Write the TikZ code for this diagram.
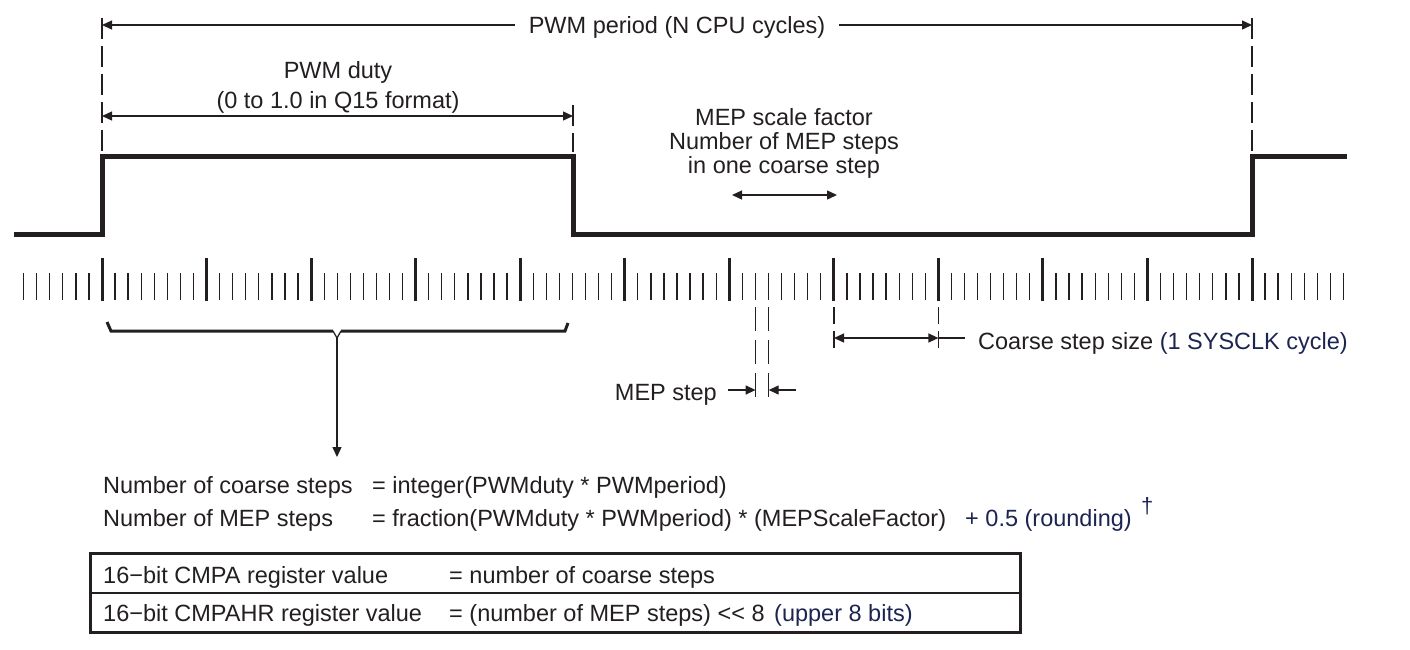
\documentclass[tikz,border=0pt]{standalone}
\usepackage{fontspec}
\setmainfont{Liberation Sans}
\usetikzlibrary{arrows.meta}
\definecolor{ink}{RGB}{35,31,32}
\definecolor{navy}{RGB}{28,36,80}
\begin{document}
\begin{tikzpicture}[x=1pt,y=-1pt,
  txt/.style={inner sep=0pt, font=\fontsize{23.5}{28}\selectfont, text=ink},
  note/.style={txt, text=navy},
  thinline/.style={line width=1.3pt, draw=ink},
  tipend/.style={thinline, -{Triangle[length=10pt,width=9pt]}},
  dim/.style={thinline, {Triangle[length=10pt,width=9pt]}-{Triangle[length=10pt,width=9pt]}},
  guide/.style={thinline, dash pattern=on 21pt off 7pt},
  wave/.style={line width=5pt, draw=ink, line join=miter},
  smalltick/.style={line width=1.3pt, draw=ink},
  bigtick/.style={line width=3pt, draw=ink},
  bracepart/.style={line width=3pt, draw=ink, line join=miter}]
\useasboundingbox (0,0) rectangle (1410,649);

% ---- key coordinates
\coordinate (perL) at (102,25);
\coordinate (perR) at (1252,25);
\coordinate (dutyL) at (102,116);
\coordinate (dutyR) at (573,116);

% ---- guide lines
\draw[guide] (102,18) -- (102,152);
\draw[guide] (1252,18) -- (1252,152);
\draw[guide] (573,105) -- (573,152);

% ---- PWM period
\draw[dim] (perL) -- (perR);
\node[txt, fill=white, inner xsep=14pt, anchor=base] (per) at (677,33.5) {PWM period (N CPU cycles)};

% ---- PWM duty
\draw[dim] (dutyL) -- (dutyR);
\node[txt, anchor=base] (duty1) at (338,78) {PWM duty};
\node[txt, anchor=base] (duty2) at (338,108) {(0 to 1.0 in Q15 format)};

% ---- MEP scale factor
\node[txt, anchor=base] (msf1) at (784,125) {MEP scale factor};
\node[txt, anchor=base] (msf2) at (784,149) {Number of MEP steps};
\node[txt, anchor=base] (msf3) at (784,173) {in one coarse step};
\coordinate (msfL) at (732,195);
\coordinate (msfR) at (837,195);
\draw[dim] (msfL) -- (msfR);

% ---- waveform
\draw[wave] (14,234) -- (102,234) -- (102,156) -- (573,156) -- (573,234)
  -- (1252,234) -- (1252,156) -- (1347,156);

% ---- tick scale
\foreach \i in {-6,...,95}
  \draw[smalltick] ({102+\i*13.068},273) -- ({102+\i*13.068},300);
\foreach \k in {0,...,11}
  \draw[bigtick] ({102+\k*104.545},258) -- ({102+\k*104.545},301);

% ---- brace and arrow down
\draw[bracepart] (107,322) -- (111,331) -- (333,331);
\draw[bracepart] (341,331) -- (565,331) -- (568,323);
\draw[thinline] (333,331) -- (337,338) -- (341,331);
\coordinate (braceTip) at (337,338);
\coordinate (formTop) at (337,457);
\draw[tipend] (braceTip) -- (formTop);

% ---- MEP step
\draw[thinline, dash pattern=on 24pt off 9pt] (755.6,307) -- (755.6,402);
\draw[thinline, dash pattern=on 24pt off 9pt] (768.7,307) -- (768.7,402);
\coordinate (mepA) at (728,390);
\coordinate (mepB) at (755.6,390);
\coordinate (mepC) at (796,390);
\coordinate (mepD) at (768.7,390);
\draw[tipend] (mepA) -- (mepB);
\draw[tipend] (mepC) -- (mepD);
\node[txt, anchor=base east] (mep) at (717,400) {MEP step};

% ---- Coarse step
\draw[thinline, dash pattern=on 17pt off 7pt] (834,307) -- (834,350);
\draw[thinline, dash pattern=on 17pt off 7pt] (938.4,307) -- (938.4,350);
\coordinate (csL) at (834,338);
\coordinate (csR) at (938.4,338);
\coordinate (csE) at (965,338);
\draw[dim] (csL) -- (csR);
\draw[thinline] (csR) -- (csE);
\node[txt, anchor=base west] (cs) at (978,349) {Coarse step size \textcolor{navy}{(1 SYSCLK cycle)}};

% ---- formulas
\node[txt, anchor=base west] (f1a) at (103,493) {Number of coarse steps};
\node[txt, anchor=base west] (f1b) at (372,493) {= integer(PWMduty * PWMperiod)};
\node[txt, anchor=base west] (f2a) at (103,526) {Number of MEP steps};
\node[txt, anchor=base west] (f2b) at (372,526) {= fraction(PWMduty * PWMperiod) * (MEPScaleFactor)};
\node[note, anchor=base west] (f2c) at (965,526) {+ 0.5 (rounding)};
\node[note, anchor=base west] (dag) at (1141,513) {\fontsize{22}{24}\selectfont †};

% ---- register box
\draw[line width=3pt, draw=ink] (90,553) rectangle (1020,632);
\draw[line width=1.5pt, draw=ink] (90,593) -- (1020,593);
\node[txt, anchor=base west] (r1a) at (103,583) {16−bit CMPA register value};
\node[txt, anchor=base west] (r1b) at (449,583) {= number of coarse steps};
\node[txt, anchor=base west] (r2a) at (103,621) {16−bit CMPAHR register value};
\node[txt, anchor=base west] (r2b) at (449,621) {= (number of MEP steps) <\kern0pt< 8};
\node[note, anchor=base west] (r2c) at (774,621) {(upper 8 bits)};
\end{tikzpicture}
\end{document}
